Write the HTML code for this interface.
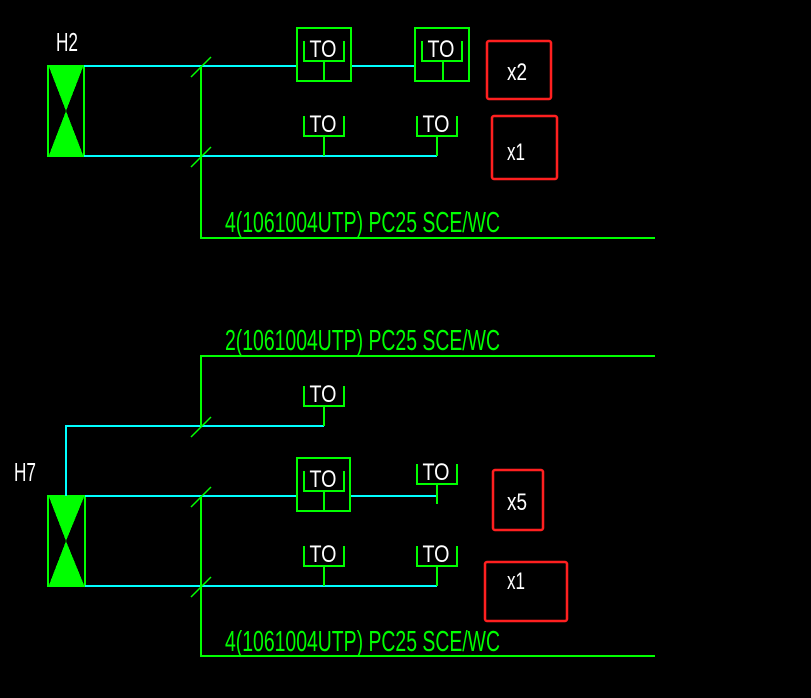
<!DOCTYPE html>
<html><head><style>html,body{margin:0;padding:0;background:#000;}svg{display:block}</style></head><body>
<svg width="811" height="698" xmlns="http://www.w3.org/2000/svg" shape-rendering="crispEdges">
<rect width="811" height="698" fill="#000"/>
<defs>
<g id="br"><polyline points="-20,-20 -20,0 20,0 20,-20" fill="none" stroke="#00ff00" stroke-width="2"/><text x="-1" y="-4" fill="#fff" font-family="Liberation Sans, sans-serif" font-size="24" text-anchor="middle" textLength="27" lengthAdjust="spacingAndGlyphs" transform="scale(1,1)">TO</text></g>
</defs>
<g font-family="Liberation Sans, sans-serif">
<!-- TOP -->
<text x="56" y="51" fill="#fff" font-size="26" textLength="22" lengthAdjust="spacingAndGlyphs">H2</text>
<rect x="48" y="66" width="36" height="90" fill="none" stroke="#00ff00" stroke-width="2"/>
<polygon points="49,67 83,67 66,111 83,155 49,155 66,111" fill="#00ff00"/>
<g stroke="#00ffff" stroke-width="2" fill="none">
<line x1="84" y1="66" x2="297" y2="66"/><line x1="351" y1="66" x2="415" y2="66"/>
<line x1="84" y1="156" x2="437" y2="156"/>
</g>
<g stroke="#00ff00" stroke-width="2" fill="none">
<polyline points="201,66 201,238 655,238"/>
<line x1="191" y1="77" x2="211" y2="57" shape-rendering="auto" stroke-width="1.5"/><line x1="191" y1="167" x2="211" y2="147" shape-rendering="auto" stroke-width="1.5"/>
<rect x="297" y="28" width="54" height="53"/><rect x="415" y="28" width="54" height="53"/>
<line x1="324" y1="61" x2="324" y2="81"/><line x1="443" y1="61" x2="443" y2="81"/>
<line x1="324" y1="136" x2="324" y2="156"/><line x1="437" y1="136" x2="437" y2="156"/>
</g>
<use href="#br" x="324" y="61"/><use href="#br" x="442" y="61"/>
<use href="#br" x="324" y="136"/><use href="#br" x="437" y="136"/>
<text x="225" y="232" fill="#00ff00" font-size="29" textLength="275" lengthAdjust="spacingAndGlyphs">4(1061004UTP) PC25 SCE/WC</text>
<g fill="none" stroke="#ff2020" stroke-width="2.5" shape-rendering="auto">
<rect x="487" y="41" width="64" height="58" rx="2"/><rect x="492" y="116" width="65" height="63" rx="2"/>
<rect x="493" y="470" width="50" height="60" rx="2"/><rect x="485" y="562" width="82" height="59" rx="2"/>
</g>
<g fill="#fff" font-size="24">
<text x="507" y="80" textLength="20" lengthAdjust="spacingAndGlyphs">x2</text>
<text x="507" y="160" textLength="18" lengthAdjust="spacingAndGlyphs">x1</text>
<text x="507" y="510" textLength="20" lengthAdjust="spacingAndGlyphs">x5</text>
<text x="507" y="589" textLength="18" lengthAdjust="spacingAndGlyphs">x1</text>
</g>
<!-- BOTTOM -->
<text x="225" y="350" fill="#00ff00" font-size="29" textLength="275" lengthAdjust="spacingAndGlyphs">2(1061004UTP) PC25 SCE/WC</text>
<text x="225" y="651" fill="#00ff00" font-size="29" textLength="275" lengthAdjust="spacingAndGlyphs">4(1061004UTP) PC25 SCE/WC</text>
<text x="14" y="481" fill="#fff" font-size="26" textLength="22" lengthAdjust="spacingAndGlyphs">H7</text>
<rect x="48" y="496" width="37" height="90" fill="none" stroke="#00ff00" stroke-width="2"/>
<polygon points="49,497 84,497 66,541 84,585 49,585 66,541" fill="#00ff00"/>
<g stroke="#00ffff" stroke-width="2" fill="none">
<polyline points="66,496 66,426 324,426"/>
<line x1="85" y1="496" x2="297" y2="496"/><line x1="350" y1="496" x2="437" y2="496"/>
<line x1="85" y1="586" x2="437" y2="586"/>
</g>
<g stroke="#00ff00" stroke-width="2" fill="none">
<polyline points="201,426 201,356 655,356"/>
<polyline points="201,496 201,656 655,656"/>
<g shape-rendering="auto" stroke-width="1.5"><line x1="191" y1="437" x2="211" y2="417"/><line x1="191" y1="507" x2="211" y2="487"/><line x1="191" y1="597" x2="211" y2="577"/></g>
<line x1="324" y1="406" x2="324" y2="426"/>
<rect x="297" y="458" width="53" height="53"/>
<line x1="324" y1="491" x2="324" y2="511"/>
<line x1="437" y1="484" x2="437" y2="504"/>
<line x1="324" y1="566" x2="324" y2="586"/><line x1="437" y1="566" x2="437" y2="586"/>
</g>
<use href="#br" x="324" y="406"/><use href="#br" x="324" y="491"/><use href="#br" x="437" y="484"/>
<use href="#br" x="324" y="566"/><use href="#br" x="437" y="566"/>
</g>
</svg>
</body></html>
